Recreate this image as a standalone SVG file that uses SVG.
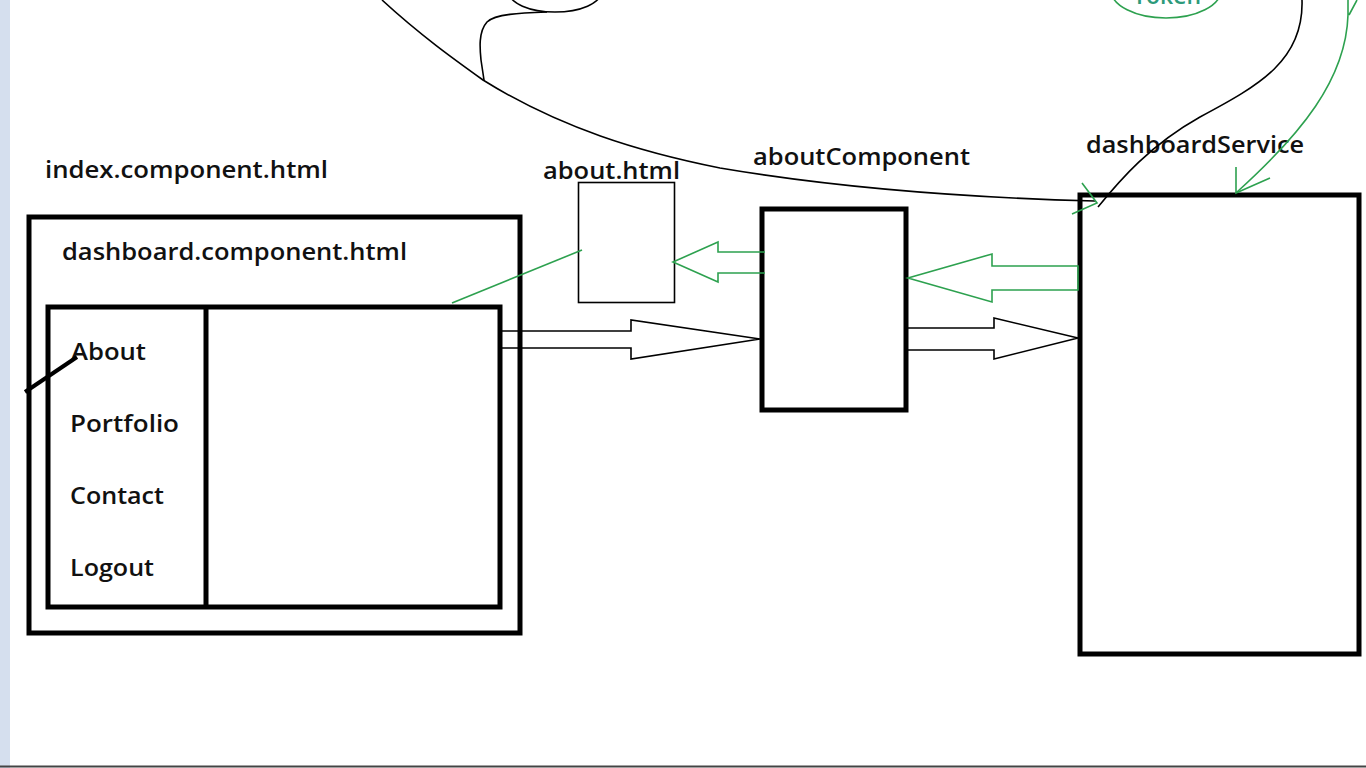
<svg xmlns="http://www.w3.org/2000/svg" width="1366" height="768" viewBox="0 0 1366 768">
<style>
.lbl{font-family:"Open Sans","Liberation Sans",sans-serif;font-weight:600;font-size:24px;fill:#111;}
.box{fill:none;stroke:#000;stroke-width:5;}
.thin{fill:none;stroke:#000;stroke-width:1.6;}
.g{fill:none;stroke:#2da14f;stroke-width:1.6;}
.k{fill:none;stroke:#000;stroke-width:1.6;}
</style>
<rect x="0" y="0" width="1366" height="768" fill="#fff"/>
<rect x="0" y="0" width="10" height="768" fill="#d5dfee"/>
<line x1="0" y1="766.5" x2="1366" y2="766.5" stroke="#444" stroke-width="2"/>

<g id="token">
<ellipse cx="1166" cy="-10" rx="55" ry="28" class="g"/>
<text x="1133" y="4" class="lbl" style="fill:#2d9a7a" textLength="68" lengthAdjust="spacingAndGlyphs">Token</text>
</g>
<g id="top-ellipse">
<ellipse cx="555" cy="-8" rx="46" ry="20" class="k"/>
</g>

<g id="index-component">
<text x="45" y="178" class="lbl" textLength="283" lengthAdjust="spacingAndGlyphs">index.component.html</text>
<rect x="29" y="217" width="491" height="416" class="box"/>
</g>
<g id="dashboard-component">
<text x="62" y="260" class="lbl" textLength="345" lengthAdjust="spacingAndGlyphs">dashboard.component.html</text>
<rect x="48" y="307" width="452" height="300" class="box"/>
<line x1="206" y1="307" x2="206" y2="607" stroke="#000" stroke-width="5"/>
<text x="71" y="360" class="lbl" textLength="75" lengthAdjust="spacingAndGlyphs">About</text>
<text x="70" y="432" class="lbl" textLength="109" lengthAdjust="spacingAndGlyphs">Portfolio</text>
<text x="70" y="504" class="lbl" textLength="94" lengthAdjust="spacingAndGlyphs">Contact</text>
<text x="70" y="576" class="lbl" textLength="84" lengthAdjust="spacingAndGlyphs">Logout</text>
</g>
<g id="about-html">
<text x="543" y="179" class="lbl" textLength="137" lengthAdjust="spacingAndGlyphs">about.html</text>
<rect x="578.5" y="182.5" width="96" height="120" class="thin"/>
</g>
<g id="about-component">
<text x="753" y="165" class="lbl" textLength="217" lengthAdjust="spacingAndGlyphs">aboutComponent</text>
<rect x="762" y="209" width="144" height="201" class="box"/>
</g>
<g id="dashboard-service">
<text x="1086" y="153" class="lbl" textLength="218" lengthAdjust="spacingAndGlyphs">dashboardService</text>
<rect x="1080" y="195" width="279" height="459" class="box"/>
</g>

<g id="connectors">
<!-- black hollow arrows -->
<path class="k" d="M502,331 L631,331 L631,320 L760,339 L631,359 L631,348 L502,348"/>
<path class="k" d="M908,328 L994,328 L994,318 L1078,338 L994,359 L994,350 L908,350"/>
<!-- green hollow arrows -->
<path class="g" d="M1078,266 L992,266 L992,254 L908,278 L992,302 L992,290 L1078,290 Z"/>
<path class="g" d="M765,252 L718,252 L718,242 L673,262 L718,282 L718,273 L765,273"/>
<!-- green line about.html to dashboard -->
<line class="g" x1="582" y1="250" x2="452" y2="303"/>
<!-- black mark at About -->
<line x1="25" y1="392" x2="77" y2="357" stroke="#000" stroke-width="4"/>
<!-- big black curve -->
<path class="k" d="M382,0 C420,35 455,60 483,80 C560,128 640,152 720,168 C850,190 980,198 1095,201"/>
<path class="k" d="M547,12 C520,13 495,14 487,22 C478,32 480,50 481,60 L484,80"/>
<!-- black curve from top right -->
<path class="k" d="M1302,0 C1304,60 1260,85 1200,117 C1150,145 1120,180 1098,207"/>
<!-- green arrowhead at corner -->
<path class="g" d="M1082,183 L1097,203 L1072,214"/>
<!-- green curve from top right -->
<path class="g" d="M1357,0 L1349,15 M1348,0 L1348,15 C1346,80 1300,135 1237,192"/>
<path class="g" d="M1236,167 L1236,193 L1270,178"/>
</g>
</svg>
